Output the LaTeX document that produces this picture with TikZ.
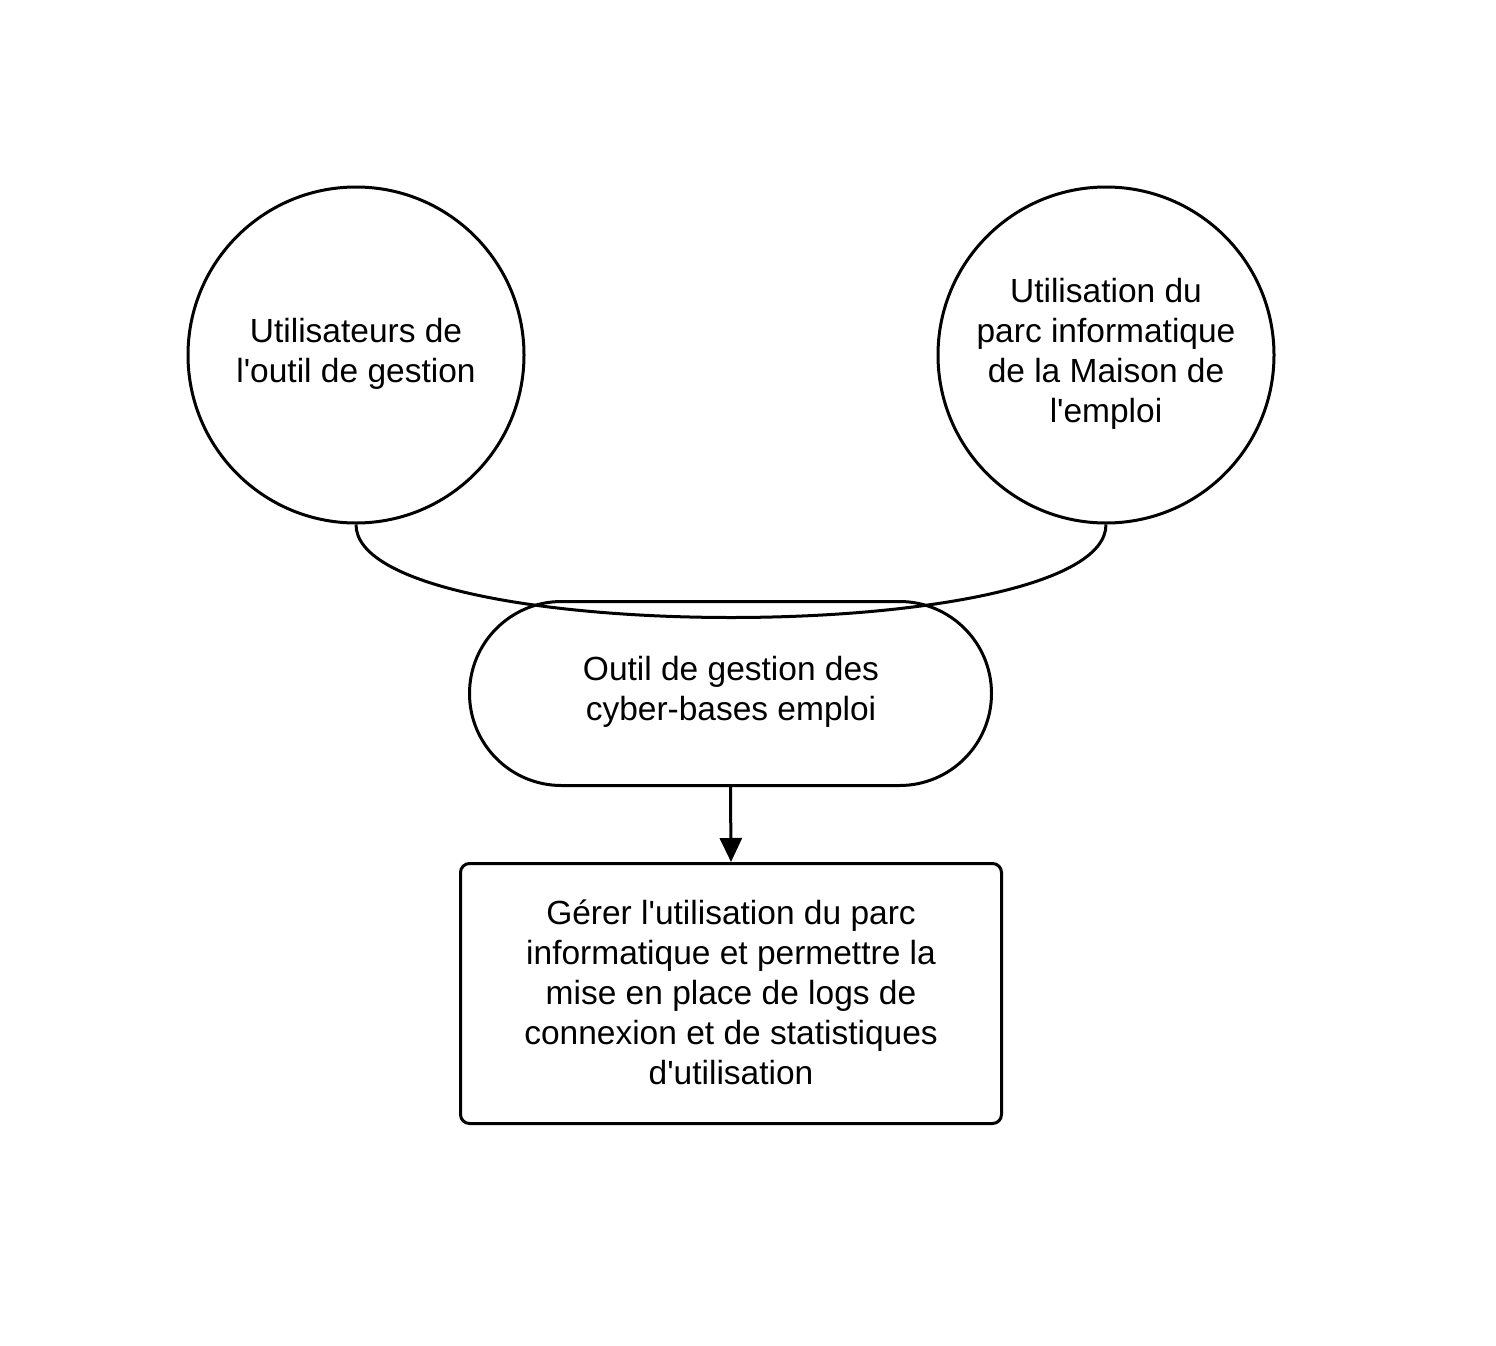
\documentclass[tikz,border=0pt]{standalone}
\usepackage{fontspec}
\setmainfont{Liberation Sans}
\usetikzlibrary{arrows.meta}
\newcommand{\apos}{\textquotesingle}
\begin{document}
\begin{tikzpicture}[x=1pt,y=-1pt,
  every node/.style={font=\fontsize{33.5}{40}\selectfont, align=center, inner sep=0pt},
  circ/.style={draw, line width=3pt, circle, minimum size=336pt},
  stad/.style={draw, line width=3pt, rectangle, rounded corners=92pt, minimum width=522pt, minimum height=184pt},
  boxn/.style={draw, line width=3pt, rectangle, rounded corners=9pt, minimum width=541pt, minimum height=260pt},
  conn/.style={line width=3pt}]
\useasboundingbox (0,0) rectangle (1496,1346);
\node[circ] (l) at (356,355) {};
\node at (356,354) {Utilisateurs de\\l\apos outil de gestion};
\node[circ] (r) at (1106,355) {};
\node at (1106,354) {Utilisation du\\parc informatique\\de la Maison de\\l\apos emploi};
\node[stad] (s) at (730.5,693.5) {};
\node at (731,692) {Outil de gestion des\\cyber-bases emploi};
\node[boxn] (b) at (731,993.5) {};
\node at (731,992) {Gérer l\apos utilisation du parc\\informatique et permettre la\\mise en place de logs de\\connexion et de statistiques\\d\apos utilisation};
\draw[conn] (l.south) .. controls +(0,124) and +(0,124) .. (r.south);
\draw[conn, -{Triangle[width=22pt,length=24pt]}] (s.south) -- (b.north);
\end{tikzpicture}
\end{document}
